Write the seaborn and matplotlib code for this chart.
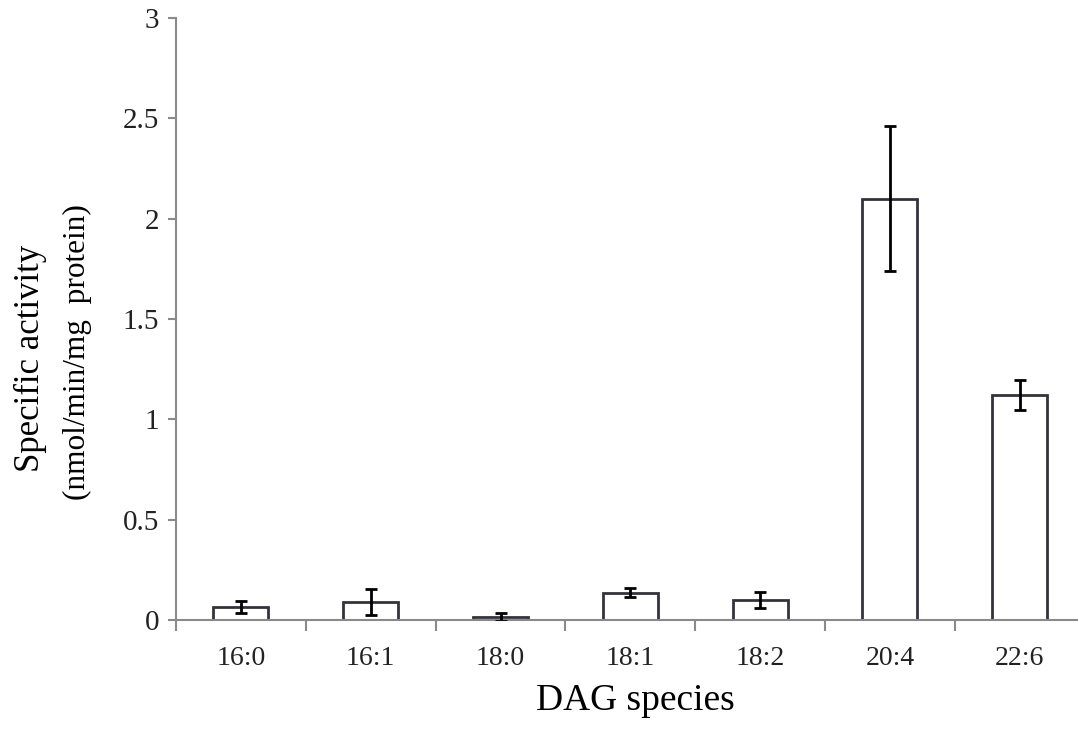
import matplotlib
matplotlib.use("Agg")
import matplotlib.pyplot as plt
import seaborn as sns
import pandas as pd
import numpy as np

species = ["16:0", "16:1", "18:0", "18:1", "18:2", "20:4", "22:6"]
activity = [0.065, 0.088, 0.015, 0.137, 0.100, 2.100, 1.122]
error = [0.030, 0.065, 0.020, 0.020, 0.038, 0.360, 0.073]

sns.set_theme(style="white")
plt.rcParams['font.family'] = ['Liberation Serif', 'DejaVu Serif']

df = pd.DataFrame({"species": species, "activity": activity})

W, H = 1078, 736
fig = plt.figure(figsize=(W / 100, H / 100), dpi=100)
ax = fig.add_axes([176 / W, 1 - 620 / H, 908.6 / W, 602 / H])

sns.barplot(data=df, x="species", y="activity", ax=ax, color="white",
            edgecolor="#33333d", linewidth=2.0, width=0.424, errorbar=None)
ax.errorbar(np.arange(len(species)), activity, yerr=error, fmt="none",
            ecolor="black", elinewidth=2.0, capsize=4.5, capthick=2.0, zorder=5)

ax.set_xlim(-0.5, len(species) - 0.5)
ax.set_ylim(0, 3)
ax.set_yticks([0, 0.5, 1, 1.5, 2, 2.5, 3])
ax.set_yticklabels(["0", "0.5", "1", "1.5", "2", "2.5", "3"])

ax.set_xticks(np.arange(len(species)))
ax.set_xticklabels(species)
ax.set_xticks(np.arange(-0.5, len(species)), minor=True)
ax.tick_params(axis="x", which="major", length=0, pad=19, labelsize=20, labelcolor="#222222")
ax.tick_params(axis="x", which="minor", length=8, width=1.5, color="#8a8a8a", direction="out", bottom=True)
ax.tick_params(axis="y", which="major", length=6, width=1.5, color="#8a8a8a", direction="out",
               left=True, pad=6, labelsize=21, labelcolor="#222222")

for s in ["top", "right"]:
    ax.spines[s].set_visible(False)
for s in ["left", "bottom"]:
    ax.spines[s].set_color("#8a8a8a")
    ax.spines[s].set_linewidth(1.5)

ax.set_ylabel("")
ax.set_xlabel("DAG species", fontsize=27, color="black")
ax.xaxis.set_label_coords((635 - 176) / 908.6, -(710 - 620) / 602)
ax.xaxis.label.set_va("baseline")

fig.text(30 / W, 1 - 358 / H, "Specific activity", rotation=90, ha="center", va="center",
         fontsize=25, color="black")
fig.text(77 / W, 1 - 352 / H, "(nmol/min/mg  protein)", rotation=90, ha="center", va="center",
         fontsize=22.5, color="black")

fig.savefig("out.png", dpi=100, facecolor="white")
